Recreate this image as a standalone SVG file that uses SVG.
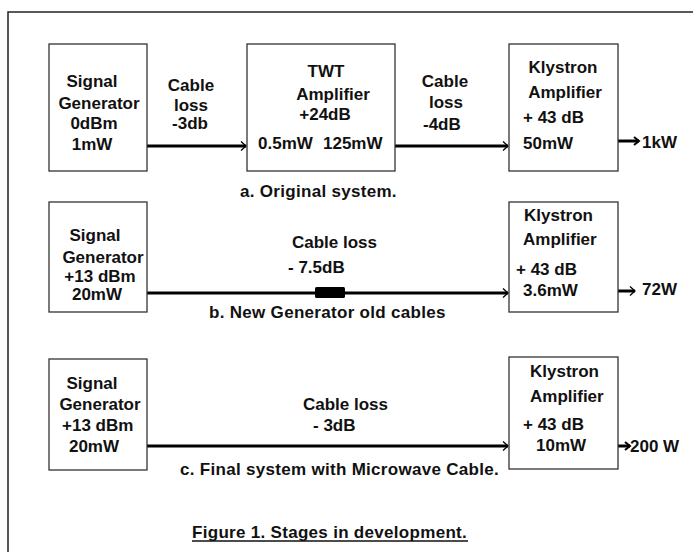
<svg xmlns="http://www.w3.org/2000/svg" width="693" height="552" viewBox="0 0 693 552">
<defs>
<style>
text{font-family:"Liberation Sans",Arial,sans-serif;font-weight:bold;font-size:17px;fill:#111}
.m{text-anchor:middle}
.cap{letter-spacing:0.3px}
.box{fill:#fff;stroke:#333;stroke-width:1.3}
.wire{stroke:#000;stroke-width:3;fill:none}
</style>
<marker id="ah" markerUnits="userSpaceOnUse" markerWidth="10" markerHeight="12" refX="6" refY="6" orient="auto" viewBox="0 0 10 12">
<path d="M1,1.5 L6,6 L1,10.5" fill="none" stroke="#000" stroke-width="1.3"/>
</marker>
<marker id="ah2" markerUnits="userSpaceOnUse" markerWidth="10" markerHeight="12" refX="6" refY="6" orient="auto" viewBox="0 0 10 12">
<path d="M1,2 L6,6 L1,10" fill="none" stroke="#000" stroke-width="2"/>
</marker>
</defs>
<rect x="8" y="12" width="700" height="560" fill="#fff" stroke="#222" stroke-width="1.5"/>

<g id="connectors">
<line class="wire" x1="147" y1="146" x2="246" y2="146" marker-end="url(#ah)"/>
<line class="wire" x1="395" y1="146" x2="508" y2="146" marker-end="url(#ah)"/>
<line class="wire" x1="618" y1="141" x2="639" y2="141" marker-end="url(#ah2)"/>
<line class="wire" x1="147" y1="293" x2="508" y2="293" marker-end="url(#ah)"/>
<rect x="315" y="287" width="30" height="11" rx="1.5" fill="#000"/>
<line class="wire" x1="618" y1="291" x2="635" y2="291" marker-end="url(#ah)"/>
<line class="wire" x1="147" y1="446" x2="508" y2="446" marker-end="url(#ah)"/>
<line class="wire" x1="618" y1="446" x2="630" y2="446" marker-end="url(#ah2)"/>
</g>

<g id="siggen-a">
<rect class="box" x="49" y="44" width="98" height="127"/>
<text class="m" x="92" y="87">Signal</text>
<text class="m" x="99" y="109">Generator</text>
<text class="m" x="94" y="129">0dBm</text>
<text class="m" x="92" y="150">1mW</text>
</g>
<g id="twt-a">
<rect class="box" x="247" y="44" width="148" height="127"/>
<text class="m" x="326" y="77">TWT</text>
<text class="m" x="333" y="100">Amplifier</text>
<text class="m" x="325" y="120">+24dB</text>
<text x="258" y="149">0.5mW</text>
<text x="323" y="149">125mW</text>
</g>
<g id="klystron-a">
<rect class="box" x="509" y="44" width="109" height="127"/>
<text class="m" x="563" y="73">Klystron</text>
<text class="m" x="565" y="98">Amplifier</text>
<text x="523" y="123">+ 43 dB</text>
<text x="523" y="149">50mW</text>
</g>
<g id="labels-a">
<text class="m" x="191" y="91">Cable</text>
<text class="m" x="191" y="111">loss</text>
<text class="m" x="190" y="129">-3db</text>
<text class="m" x="445" y="87">Cable</text>
<text class="m" x="446" y="108">loss</text>
<text x="423" y="130">-4dB</text>
<text x="642" y="148">1kW</text>
<text class="cap" x="240" y="197">a. Original system.</text>
</g>

<g id="siggen-b">
<rect class="box" x="49" y="202" width="98" height="110"/>
<text class="m" x="95" y="241">Signal</text>
<text class="m" x="103" y="263">Generator</text>
<text class="m" x="100" y="282">+13 dBm</text>
<text class="m" x="97" y="300">20mW</text>
</g>
<g id="klystron-b">
<rect class="box" x="509" y="202" width="109" height="110"/>
<text x="524" y="221">Klystron</text>
<text x="523" y="245">Amplifier</text>
<text x="516" y="275">+ 43 dB</text>
<text x="523" y="296">3.6mW</text>
</g>
<g id="labels-b">
<text x="292" y="248">Cable loss</text>
<text x="288" y="273">-  7.5dB</text>
<text x="642" y="295">72W</text>
<text class="cap" x="209" y="318">b. New Generator old cables</text>
</g>

<g id="siggen-c">
<rect class="box" x="49" y="359" width="98" height="111"/>
<text class="m" x="92" y="389">Signal</text>
<text class="m" x="100" y="410">Generator</text>
<text x="62" y="431">+13 dBm</text>
<text class="m" x="94" y="452">20mW</text>
</g>
<g id="klystron-c">
<rect class="box" x="509" y="357" width="109" height="112"/>
<text x="530" y="377">Klystron</text>
<text x="530" y="402">Amplifier</text>
<text x="523" y="430">+ 43 dB</text>
<text x="536" y="451">10mW</text>
</g>
<g id="labels-c">
<text x="303" y="410">Cable loss</text>
<text x="313" y="431">-  3dB</text>
<text x="630" y="452">200 W</text>
<text class="cap" x="180" y="475">c. Final system with Microwave Cable.</text>
</g>

<g id="title">
<text class="cap" x="192" y="538">Figure 1. Stages in development.</text>
<line x1="192" y1="541" x2="468" y2="541" stroke="#111" stroke-width="1.3"/>
</g>
</svg>
